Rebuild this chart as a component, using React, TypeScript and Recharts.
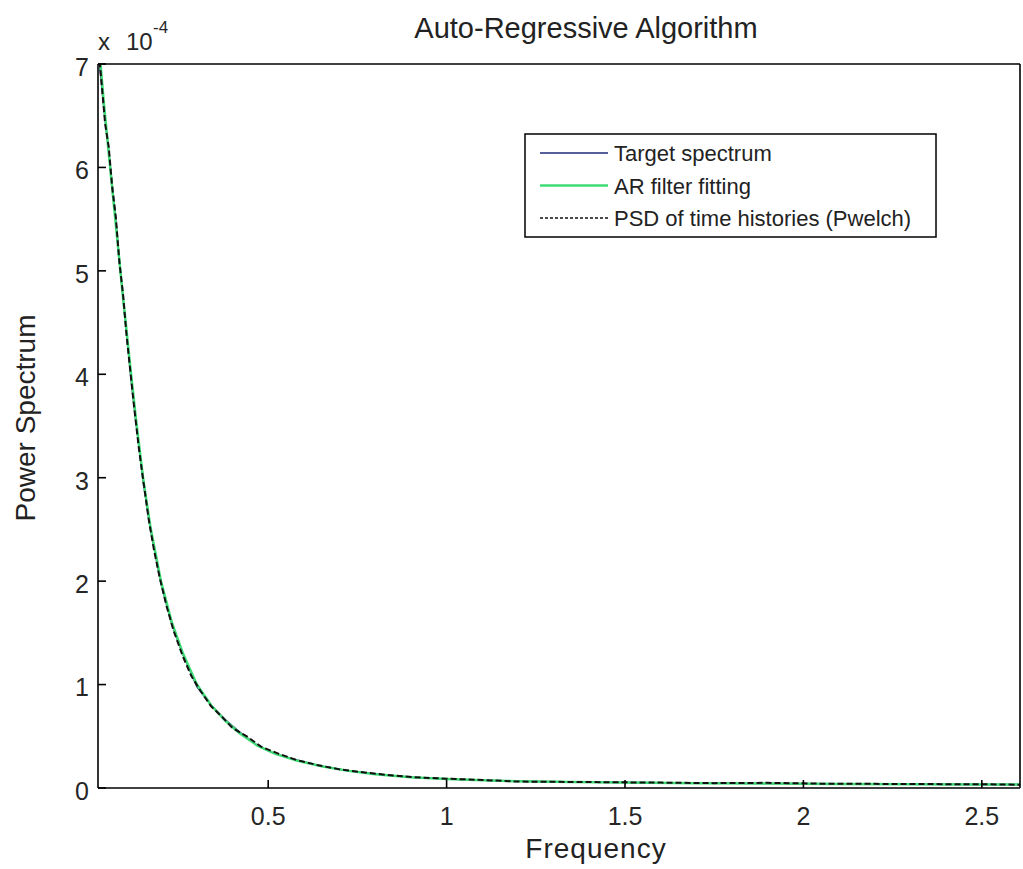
import React from "react";
import { Line, LineChart, XAxis, YAxis } from "recharts";

// values are in units of 1e-4 (the axis shows "x 10^-4")
const freq = [
  0.023, 0.03, 0.04, 0.05, 0.06, 0.07, 0.08, 0.09, 0.1, 0.115, 0.13, 0.15, 0.17, 0.2, 0.23, 0.26, 0.3, 0.34, 0.38,
  0.42, 0.47, 0.52, 0.58, 0.65, 0.72, 0.8, 0.9, 1.0, 1.1, 1.2, 1.35, 1.5, 1.7, 1.9, 2.1, 2.3, 2.5, 2.607,
];
const targetSpectrum = [
  7.15, 6.9, 6.55, 6.25, 5.93, 5.6, 5.22, 4.85, 4.5, 3.97, 3.52, 2.95, 2.5, 1.97, 1.58, 1.3, 0.98, 0.8, 0.66, 0.54,
  0.41, 0.33, 0.27, 0.21, 0.17, 0.135, 0.105, 0.087, 0.075, 0.066, 0.058, 0.053, 0.048, 0.044, 0.04, 0.037, 0.034,
  0.033,
];
const arFitting = [
  7.3, 7.0, 6.6, 6.25, 5.9, 5.55, 5.2, 4.85, 4.52, 4.02, 3.55, 2.98, 2.52, 1.99, 1.6, 1.31, 1.0, 0.8, 0.65, 0.53,
  0.41, 0.33, 0.265, 0.21, 0.168, 0.133, 0.104, 0.086, 0.074, 0.065, 0.057, 0.052, 0.047, 0.043, 0.039, 0.036, 0.034,
  0.033,
];
const psdFreq = [
  0.023, 0.033, 0.043, 0.053, 0.063, 0.073, 0.083, 0.093, 0.103, 0.113, 0.123, 0.137, 0.15, 0.165, 0.18, 0.195, 0.215,
  0.235, 0.26, 0.285, 0.31, 0.34, 0.37, 0.4, 0.44, 0.48, 0.53, 0.58, 0.64, 0.7, 0.77, 0.85, 0.93, 1.0, 1.1, 1.2, 1.3,
  1.45, 1.6, 1.75, 1.9, 2.05, 2.2, 2.35, 2.5, 2.607,
];
const psdWelch = [
  7.2, 6.82, 6.42, 6.2, 5.8, 5.52, 5.08, 4.78, 4.38, 4.05, 3.72, 3.3, 2.97, 2.6, 2.3, 2.05, 1.76, 1.52, 1.28, 1.08,
  0.94, 0.79, 0.69, 0.58, 0.5, 0.4, 0.33, 0.27, 0.22, 0.18, 0.15, 0.12, 0.1, 0.09, 0.078, 0.062, 0.06, 0.056, 0.052,
  0.047, 0.05, 0.042, 0.04, 0.038, 0.036, 0.032,
];
const xTicks = [0.5, 1, 1.5, 2, 2.5];
const yTicks = [0, 1, 2, 3, 4, 5, 6, 7];

const curveData = freq.map((f, i) => ({ f, target: targetSpectrum[i], ar: arFitting[i] }));
const psdData = psdFreq.map((f, i) => ({ f, psd: psdWelch[i] }));

const series = [
  { key: "target", name: "Target spectrum", color: "#1f2a78", width: 1.5, dash: undefined },
  { key: "ar", name: "AR filter fitting", color: "#3edc74", width: 2.5, dash: undefined },
  { key: "psd", name: "PSD of time histories (Pwelch)", color: "#111111", width: 2, dash: "6 3" },
];

const FONT = '"Liberation Sans", Arial, sans-serif';
const X_DOMAIN = [0.023, 2.607];
const axisStroke = { stroke: "#000", strokeWidth: 1.6 };
const TICK_FS = 25;
const tickStyle = { fill: "#262626", fontSize: TICK_FS, fontFamily: FONT };

export default function App() {
  return (
    <div style={{ position: "absolute", left: 0, top: 0, width: 1023, height: 869, background: "#fff" }}>
      <LineChart width={1023} height={869} data={curveData} margin={{ top: 63, right: 2, bottom: 0, left: 0 }}>
        <XAxis
          xAxisId="b"
          dataKey="f"
          type="number"
          domain={X_DOMAIN}
          ticks={xTicks}
          allowDataOverflow
          height={81}
          tickSize={-8}
          tickMargin={27}
          fontSize={TICK_FS}
          axisLine={axisStroke}
          tickLine={axisStroke}
          tick={tickStyle}
        />
        <XAxis
          xAxisId="t"
          orientation="top"
          dataKey="f"
          type="number"
          domain={X_DOMAIN}
          ticks={xTicks}
          allowDataOverflow
          height={1}
          tickSize={-8}
          axisLine={axisStroke}
          tickLine={axisStroke}
          tick={false}
        />
        <YAxis
          yAxisId="l"
          type="number"
          domain={[0, 7]}
          ticks={yTicks}
          allowDataOverflow
          width={98}
          tickSize={-8}
          tickMargin={17}
          fontSize={TICK_FS}
          axisLine={axisStroke}
          tickLine={axisStroke}
          tick={{ ...tickStyle, dy: 3 }}
        />
        <YAxis
          yAxisId="r"
          orientation="right"
          type="number"
          domain={[0, 7]}
          ticks={yTicks}
          allowDataOverflow
          width={1}
          tickSize={-8}
          axisLine={axisStroke}
          tickLine={axisStroke}
          tick={false}
        />
        <Line
          xAxisId="b"
          yAxisId="l"
          dataKey="target"
          stroke={series[0].color}
          strokeWidth={series[0].width}
          dot={false}
          isAnimationActive={false}
        />
        <Line
          xAxisId="b"
          yAxisId="l"
          dataKey="ar"
          stroke={series[1].color}
          strokeWidth={series[1].width}
          dot={false}
          isAnimationActive={false}
        />
        <Line
          xAxisId="b"
          yAxisId="l"
          data={psdData}
          dataKey="psd"
          stroke={series[2].color}
          strokeWidth={series[2].width}
          strokeDasharray={series[2].dash}
          dot={false}
          isAnimationActive={false}
        />
      </LineChart>

      <svg
        width={1023}
        height={869}
        style={{ position: "absolute", left: 0, top: 0, pointerEvents: "none" }}
        fontFamily={FONT}
      >
        <text x={586} y={38} textAnchor="middle" fontSize={29} fill="#222">
          Auto-Regressive Algorithm
        </text>
        <text x={98} y={50} fontSize={24} fill="#262626">
          x
        </text>
        <text x={126} y={50} fontSize={24} fill="#262626">
          10
        </text>
        <text x={153} y={33} fontSize={17} fill="#262626">
          -4
        </text>
        <text x={596} y={858} textAnchor="middle" fontSize={28} letterSpacing={1} fill="#222">
          Frequency
        </text>
        <text x={35} y={418} textAnchor="middle" fontSize={28} fill="#222" transform="rotate(-90 35 418)">
          Power Spectrum
        </text>

        <rect x={525} y={134} width={411} height={103} fill="#fff" stroke="#000" strokeWidth={1.5} />
        {series.map((s, i) => {
          const cy = 153 + i * 32.5;
          return (
            <g key={s.key}>
              <line
                x1={540}
                x2={608}
                y1={cy}
                y2={cy}
                stroke={s.color}
                strokeWidth={s.key === "psd" ? 1.5 : s.width}
                strokeDasharray={s.key === "psd" ? "3 2" : undefined}
              />
              <text x={614} y={cy + 8} fontSize={22} fill="#222">
                {s.name}
              </text>
            </g>
          );
        })}
      </svg>
    </div>
  );
}
